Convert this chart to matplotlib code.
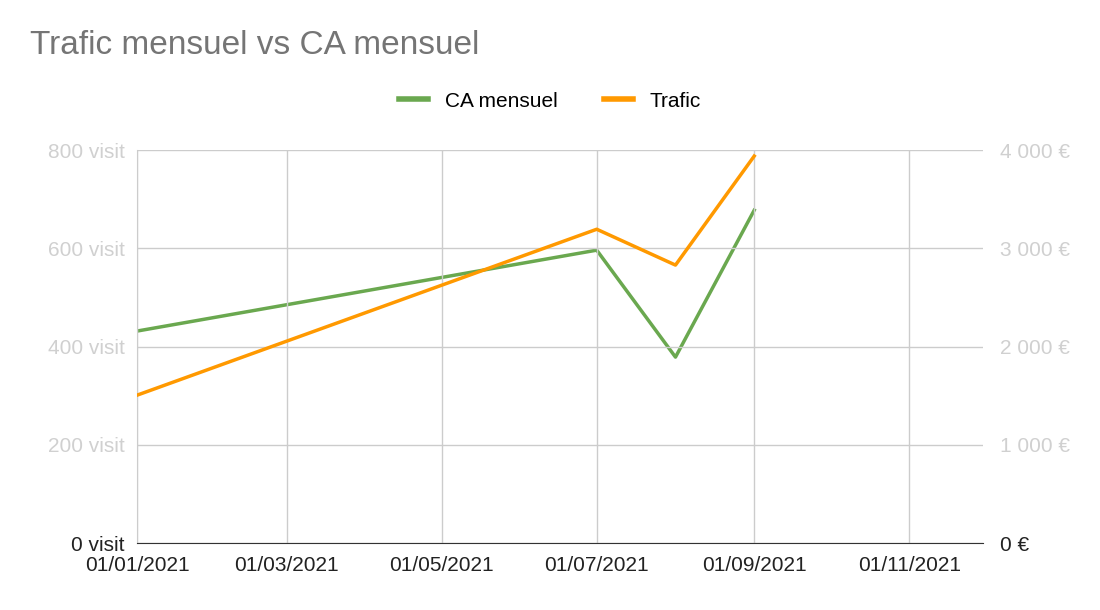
import matplotlib.pyplot as plt
import matplotlib.dates as mdates
from datetime import date

plt.rcParams['font.family'] = ['Liberation Sans', 'DejaVu Sans']

# data
dates = [date(2021, 1, 1), date(2021, 7, 1), date(2021, 8, 1), date(2021, 9, 1)]
trafic = [301, 639, 566, 788]
ca_mensuel = [2158, 2982, 1893, 3389]
left_ticks = [0, 200, 400, 600, 800]
left_labels = ["0 visit", "200 visit", "400 visit", "600 visit", "800 visit"]
right_labels = ["0 €", "1 000 €", "2 000 €", "3 000 €", "4 000 €"]
x_ticks = [date(2021, m, 1) for m in (1, 3, 5, 7, 9, 11)]

green = "#6aa84f"
orange = "#ff9900"
grid = "#cccccc"

fig = plt.figure(figsize=(11, 6.1), dpi=100)
ax = fig.add_axes([0.1245, 0.1098, 0.769, 0.644])
ax2 = ax.twinx()

ax.plot(dates, trafic, color=orange, lw=2.5, zorder=3)
ax2.plot(dates, ca_mensuel, color=green, lw=2.5, zorder=3)
ax.set_zorder(ax2.get_zorder() + 1)
ax.patch.set_visible(False)

ax.set_xlim(date(2021, 1, 1), date(2021, 11, 30))
ax.set_ylim(0, 800)
ax2.set_ylim(0, 4000)
ax.set_xticks(x_ticks)
ax.xaxis.set_major_formatter(mdates.DateFormatter("%d/%m/%Y"))
ax.set_yticks(left_ticks)
ax.set_yticklabels(left_labels)
ax2.set_yticks([0, 1000, 2000, 3000, 4000])
ax2.set_yticklabels(right_labels)

ax.grid(True, color=grid, lw=1)
for a in (ax, ax2):
    for s in a.spines.values():
        s.set_visible(False)
    a.tick_params(length=0, labelsize=15, colors="#222222")
ax.spines["bottom"].set_visible(True)
ax.spines["bottom"].set_color("#333333")
ax.spines["left"].set_visible(True)
ax.spines["left"].set_color(grid)
ax.tick_params(axis="x", pad=9)
ax.tick_params(axis="y", pad=9)
ax2.tick_params(axis="y", pad=12)
# the source hides most value labels; draw them faint
for t in ax.get_yticklabels()[1:] + ax2.get_yticklabels()[1:]:
    t.set_color("#d0d0d0")

fig.text(0.027, 0.925, "Trafic mensuel vs CA mensuel", fontsize=24, color="#757575", va="center")
h1, = ax.plot([], [], color=green, lw=4)
h2, = ax.plot([], [], color=orange, lw=4)
fig.legend([h1, h2], ["CA mensuel", "Trafic"], loc="center", bbox_to_anchor=(0.5, 0.834),
           ncol=2, frameon=False, fontsize=15, handlelength=1.4, columnspacing=2.2)

fig.savefig("out.png", dpi=100)
